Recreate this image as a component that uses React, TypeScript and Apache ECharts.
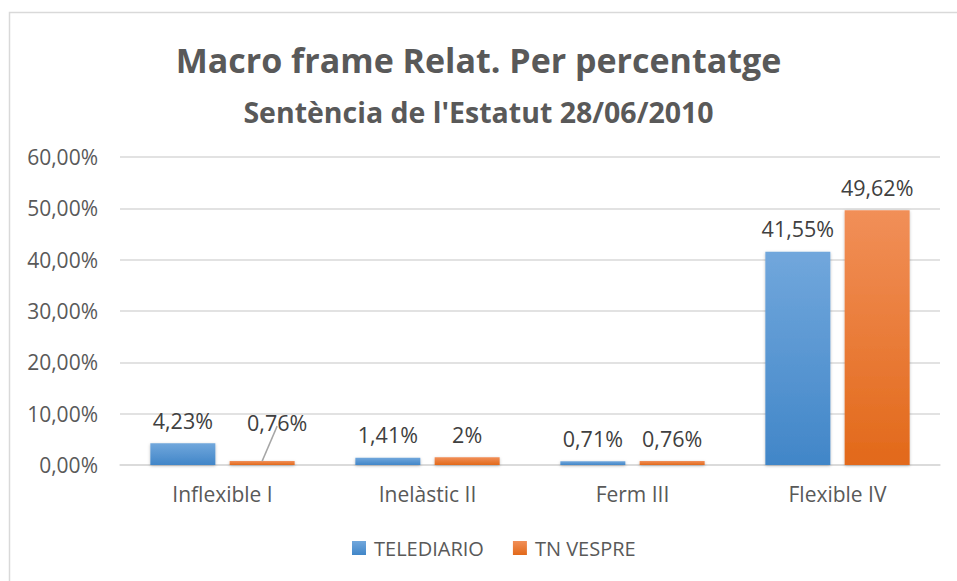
import React, { useEffect, useRef } from "react";
import * as echarts from "echarts";

const categories = ["Inflexible I", "Inelàstic II", "Ferm III", "Flexible IV"];
const seriesNames = ["TELEDIARIO", "TN VESPRE"];
const telediario = [4.23, 1.41, 0.71, 41.55];
const tnVespre = [0.76, 1.5, 0.76, 49.62];
const telediarioLabels = ["4,23%", "1,41%", "0,71%", "41,55%"];
const tnVespreLabels = ["0,76%", "2%", "0,76%", "49,62%"];
const yTicks = [0, 10, 20, 30, 40, 50, 60];

const FONT = "'Open Sans', Lato, sans-serif";

export default function App() {
  const ref = useRef<HTMLDivElement>(null);
  useEffect(() => {
    document.body.style.margin = "0";
    const chart = echarts.init(ref.current!, null, { renderer: "svg" });
    const grad = (top: string, bottom: string) =>
      new echarts.graphic.LinearGradient(0, 0, 0, 1, [
        { offset: 0, color: top },
        { offset: 1, color: bottom },
      ]);
    const blue = grad("#71a7dc", "#4186c8");
    const orange = grad("#f18f58", "#e2691a");
    const labelStyle = {
      show: true,
      position: "top",
      distance: 12,
      fontSize: 21.5,
      color: "#404040",
      fontFamily: FONT,
    };
    const border = {
      type: "rect",
      shape: { x: 9.5, y: 12.5, width: 1000, height: 1000 },
      style: { fill: "none", stroke: "#d9d9d9", lineWidth: 1.5 },
      silent: true,
    };
    let leader: number[] | null = null;
    const DX = 15;
    const DY = -16;
    chart.setOption({
      animation: false,
      textStyle: { fontFamily: FONT },
      title: [
        {
          text: "Macro frame Relat. Per percentatge",
          left: "center",
          top: 38,
          textStyle: { fontSize: 34, fontWeight: "bold", color: "#595959", fontFamily: FONT },
        },
        {
          text: "Sentència de l'Estatut 28/06/2010",
          left: "center",
          top: 92,
          textStyle: { fontSize: 28.5, fontWeight: "bold", color: "#595959", fontFamily: FONT },
        },
      ],
      graphic: [border],
      legend: {
        data: seriesNames,
        bottom: 18,
        left: 347,
        itemWidth: 14,
        itemHeight: 14,
        itemGap: 29,
        icon: "rect",
        textStyle: { fontSize: 20, color: "#595959", fontFamily: FONT, padding: [0, 0, 0, 3] },
      },
      grid: { left: 120, right: 17, top: 157, bottom: 116 },
      xAxis: {
        type: "category",
        data: categories,
        axisLine: { lineStyle: { color: "#d9d9d9", width: 1.5 } },
        axisTick: { show: false },
        axisLabel: { fontSize: 21, color: "#595959", margin: 18, fontFamily: FONT },
      },
      yAxis: {
        type: "value",
        min: yTicks[0],
        max: yTicks[yTicks.length - 1],
        interval: 10,
        axisLine: { show: false },
        axisTick: { show: false },
        splitLine: { lineStyle: { color: "#d9d9d9", width: 1.5 } },
        axisLabel: {
          fontSize: 21,
          color: "#595959",
          margin: 22,
          fontFamily: FONT,
          formatter: (v: number) => v.toFixed(2).replace(".", ",") + "%",
        },
      },
      series: [
        {
          name: seriesNames[0],
          type: "bar",
          barWidth: 65,
          barGap: "22%",
          data: telediario,
          itemStyle: {
            color: blue,
            shadowBlur: 3,
            shadowColor: "rgba(0,0,0,0.25)",
            shadowOffsetY: 1,
          },
          label: {
            ...labelStyle,
            formatter: (p: any) => telediarioLabels[p.dataIndex],
          },
        },
        {
          name: seriesNames[1],
          type: "bar",
          barWidth: 65,
          barGap: "22%",
          data: tnVespre,
          itemStyle: {
            color: orange,
            shadowBlur: 3,
            shadowColor: "rgba(0,0,0,0.25)",
            shadowOffsetY: 1,
          },
          label: {
            ...labelStyle,
            formatter: (p: any) => tnVespreLabels[p.dataIndex],
          },
          labelLayout: (p: any) => {
            if (p.dataIndex !== 0) return {};
            const r = p.rect;
            const lr = p.labelRect;
            leader = [
              r.x + r.width / 2,
              r.y,
              lr.x + lr.width / 2 + DX,
              lr.y + lr.height + DY - 7,
            ];
            return { dx: DX, dy: DY };
          },
        },
      ],
      color: ["#5b9bd5", "#ed7d31"],
    });
    if (leader) {
      const [x1, y1, x2, y2] = leader as number[];
      chart.setOption({
        graphic: [
          border,
          {
            type: "line",
            shape: { x1, y1, x2, y2 },
            style: { stroke: "#a6a6a6", lineWidth: 1.5 },
            silent: true,
            z: 10,
          },
        ],
      });
    }
    return () => chart.dispose();
  }, []);
  return <div ref={ref} style={{ width: 957, height: 581 }} />;
}
